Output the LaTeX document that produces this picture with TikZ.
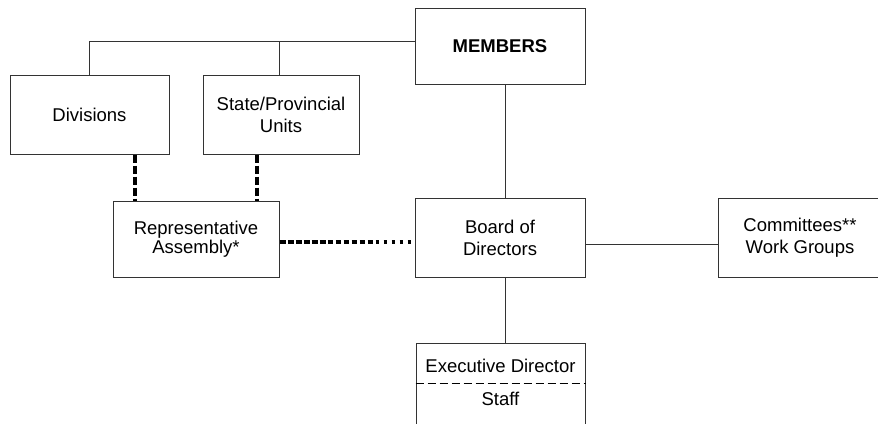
\documentclass[tikz,border=0pt]{standalone}
\usepackage{fontspec}
\setmainfont{Liberation Sans}
\usetikzlibrary{positioning,calc}
\tikzset{
    % Boxes
    box color/.style={draw=black!80},
    box/.style={box color,line width=1pt,fill=white,rectangle,inner sep=2pt,
        align=center,font=\fontsize{18.5}{22}\selectfont},
    plain text/.style={inner sep=1pt,font=\fontsize{18.5}{22}\selectfont},
    %
    % Connectors
    line/.style={draw=black!80,line width=1pt},
    assembly link/.style={line width=4pt,dash pattern=on 8pt off 3pt},
    assembly row/.style={line width=4pt,
        dash pattern=on 6pt off 2pt on 6pt off 2pt on 6pt off 2pt on 6pt off 2pt
            on 6pt off 2pt on 6pt off 2pt on 5pt off 3pt on 5pt off 3pt
            on 5pt off 3pt on 5pt off 3pt on 5pt off 3pt on 5pt off 3pt
            on 3pt off 5pt on 3pt off 5pt on 3pt off 5pt on 3pt off 5pt
            on 3pt off 5pt on 3pt off 5pt on 3pt off 5pt},
    separator/.style={draw=black,line width=0.9pt,dash pattern=on 8pt off 4pt}
}

\begin{document}
\begin{tikzpicture}[x=1pt,y=-1pt]
    \useasboundingbox (0,0) rectangle (878,423);
    \clip (0,0) rectangle (878,423);

    % Boxes
    \node[box,minimum width=170,minimum height=76] (members) at (500,46) {\textbf{MEMBERS}};
    \node[box,minimum width=159,minimum height=79] (div) at (89.5,114.5) {Divisions};
    \node[box,minimum width=156,minimum height=79] (state) at (281,114.5) {State/Provincial\\Units};
    \node[box,minimum width=166,minimum height=76,
          font=\fontsize{18.5}{19}\selectfont] (rep) at (196,239) {Representative\\Assembly*};
    \node[box,minimum width=170,minimum height=79] (board) at (500,237.5) {Board of\\Directors};
    \node[box,minimum width=164,minimum height=79] (comm) at (800,237.5) {Committees**\\Work Groups};
    \node[box,minimum width=169,minimum height=120] (exec) at (500.5,403) {};
    \node[plain text] (execdir) at (500.5,366) {Executive Director};
    \node[plain text] (staff) at (500.5,399) {Staff};
    \draw[separator] (exec.west |- 0,383) -- (exec.east |- 0,383);

    % Solid connectors
    \coordinate (bus) at (415,41);
    \draw[line] (div.north) |- (bus);
    \draw[line] ([xshift=-2pt]state.north) -- ([xshift=-2pt]state.north |- bus);
    \draw[line] ([xshift=5pt]members.south) -- ([xshift=5pt]board.north);
    \draw[line] ([xshift=5pt]board.south) -- ([xshift=4.5pt]exec.north);
    \draw[line] ([yshift=-6.5pt]board.east) -- ([yshift=-6.5pt]comm.west);

    % Representative Assembly links
    \draw[assembly link] ([xshift=45.5pt]div.south) -- ([xshift=45.5pt]div.south |- rep.north);
    \draw[assembly link] ([xshift=-24pt]state.south) -- ([xshift=-24pt]state.south |- rep.north);
    \draw[assembly row] ([yshift=-3pt]rep.east) -- ([yshift=-3pt]rep.east -| board.west);
\end{tikzpicture}
\end{document}
